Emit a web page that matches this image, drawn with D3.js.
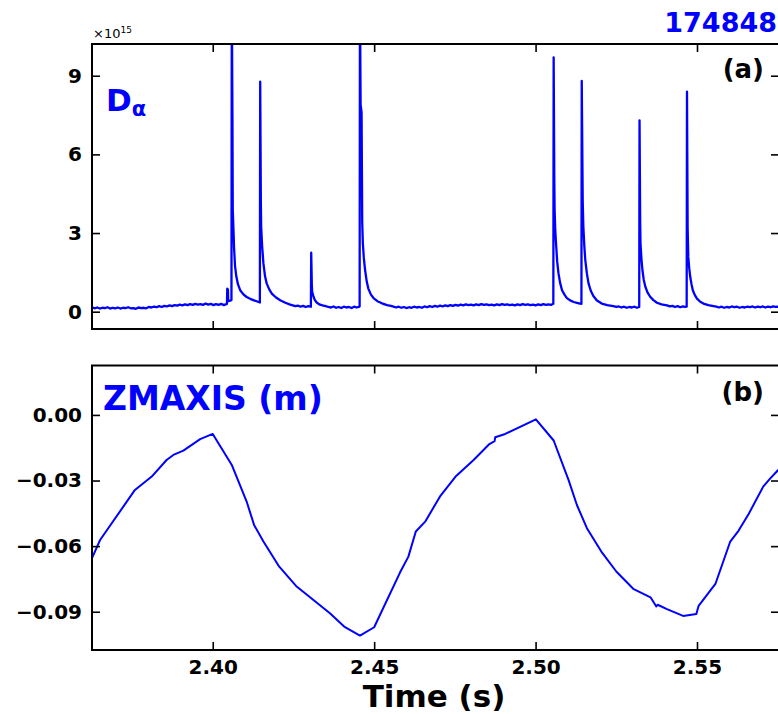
<!DOCTYPE html>
<html>
<head>
<meta charset="utf-8">
<script src="https://cdn.jsdelivr.net/npm/d3@7"></script>
<style>
  html, body { margin: 0; padding: 0; background: #fff; }
  svg { display: block; font-family: "DejaVu Sans", sans-serif; }
</style>
</head>
<body>
<svg id="chart" width="778" height="714"></svg>
<script>
// D-alpha emission (units of 1e15), time in seconds
const daTime = [
  2.3626, 2.3634, 2.3642, 2.3650, 2.3658, 2.3666, 2.3674, 2.3682, 2.3690, 2.3698,
  2.3706, 2.3714, 2.3722, 2.3730, 2.3738, 2.3746, 2.3754, 2.3762, 2.3770, 2.3778,
  2.3786, 2.3794, 2.3802, 2.3810, 2.3818, 2.3826, 2.3834, 2.3842, 2.3850, 2.3858,
  2.3866, 2.3874, 2.3882, 2.3890, 2.3898, 2.3906, 2.3914, 2.3922, 2.3930, 2.3938,
  2.3946, 2.3954, 2.3962, 2.3970, 2.3978, 2.3986, 2.3994, 2.4002, 2.4010, 2.4018,
  2.4026, 2.4034, 2.4040, 2.4044, 2.4045, 2.4047, 2.4048, 2.4054, 2.4058,
  // ELM 1
  2.4059, 2.4061, 2.4062, 2.4064, 2.4066, 2.4069, 2.4073, 2.4078, 2.4085, 2.4095,
  2.4105, 2.4116, 2.4128, 2.4138, 2.4146,
  // ELM 2
  2.4147, 2.4149, 2.4150, 2.4153, 2.4157, 2.4162, 2.4167, 2.4175, 2.4183, 2.4195,
  2.4209, 2.4225, 2.4240, 2.4248, 2.4256, 2.4264, 2.4272, 2.4280, 2.4288, 2.4296, 2.4304,
  // ELM 3
  2.4305, 2.4307, 2.4308, 2.4312, 2.4316, 2.4322, 2.4330, 2.4340, 2.4350, 2.4358,
  2.4366, 2.4374, 2.4382, 2.4390, 2.4398, 2.4406, 2.4414, 2.4422, 2.4430, 2.4438,
  2.4446, 2.4452, 2.4455,
  // ELM 4
  2.4456, 2.4458, 2.4461, 2.4463, 2.4465, 2.4468, 2.4472, 2.4477, 2.4482, 2.4490,
  2.4498, 2.4510, 2.4524, 2.4540, 2.4552, 2.4560, 2.4568, 2.4576, 2.4584, 2.4592,
  2.4600, 2.4608, 2.4616, 2.4624, 2.4632, 2.4640, 2.4648, 2.4656, 2.4664, 2.4672,
  2.4680, 2.4688, 2.4696, 2.4704, 2.4712, 2.4720, 2.4728, 2.4736, 2.4744, 2.4752,
  2.4760, 2.4768, 2.4776, 2.4784, 2.4792, 2.4800, 2.4808, 2.4816, 2.4824, 2.4832,
  2.4840, 2.4848, 2.4856, 2.4864, 2.4872, 2.4880, 2.4888, 2.4896, 2.4904, 2.4912,
  2.4920, 2.4928, 2.4936, 2.4944, 2.4952, 2.4960, 2.4968, 2.4976, 2.4984, 2.4992,
  2.5000, 2.5008, 2.5016, 2.5024, 2.5032, 2.5040, 2.5048, 2.5055,
  // ELM 5
  2.5056, 2.5058, 2.5059, 2.5061, 2.5064, 2.5067, 2.5071, 2.5076, 2.5082, 2.5090,
  2.5097, 2.5107, 2.5118, 2.5128, 2.5138, 2.5142,
  // ELM 6
  2.5143, 2.5146, 2.5148, 2.5151, 2.5154, 2.5159, 2.5164, 2.5171, 2.5179, 2.5190,
  2.5205, 2.5222, 2.5241, 2.5250, 2.5258, 2.5266, 2.5274, 2.5282, 2.5290, 2.5298,
  2.5306, 2.5314, 2.5321,
  // ELM 7
  2.5322, 2.5324, 2.5325, 2.5328, 2.5331, 2.5335, 2.5340, 2.5347, 2.5355, 2.5365,
  2.5376, 2.5390, 2.5407, 2.5416, 2.5424, 2.5432, 2.5440, 2.5448, 2.5456, 2.5463, 2.5468,
  // ELM 8
  2.5469, 2.5471, 2.5473, 2.5476, 2.5479, 2.5483, 2.5487, 2.5493, 2.5500, 2.5510,
  2.5520, 2.5535, 2.5551, 2.5560, 2.5568, 2.5576, 2.5584, 2.5592, 2.5600, 2.5608,
  2.5616, 2.5624, 2.5632, 2.5640, 2.5648, 2.5656, 2.5664, 2.5672, 2.5680, 2.5688,
  2.5696, 2.5704, 2.5712, 2.5720, 2.5728, 2.5736, 2.5744, 2.5752
];
const daValue = [
  0.17, 0.13, 0.16, 0.12, 0.15, 0.14, 0.17, 0.12, 0.15, 0.13,
  0.16, 0.12, 0.15, 0.14, 0.17, 0.13, 0.14, 0.11, 0.16, 0.14,
  0.15, 0.13, 0.18, 0.16, 0.19, 0.17, 0.21, 0.18, 0.22, 0.20,
  0.24, 0.21, 0.25, 0.23, 0.27, 0.24, 0.28, 0.25, 0.29, 0.26,
  0.30, 0.27, 0.29, 0.26, 0.31, 0.27, 0.30, 0.25, 0.29, 0.26,
  0.30, 0.25, 0.28, 0.30, 0.88, 0.85, 0.40, 0.42, 0.45,
  // ELM 1
  12.0, 7.50, 3.90, 3.20, 2.45, 1.75, 1.35, 1.05, 0.82, 0.66,
  0.56, 0.49, 0.43, 0.39, 0.35,
  // ELM 2
  8.77, 4.20, 3.24, 2.50, 1.84, 1.35, 1.08, 0.85, 0.69, 0.55,
  0.44, 0.34, 0.27, 0.24, 0.21, 0.23, 0.19, 0.22, 0.18, 0.21, 0.19,
  // ELM 3
  2.25, 1.00, 0.76, 0.58, 0.45, 0.35, 0.28, 0.24, 0.21, 0.18,
  0.16, 0.20, 0.15, 0.18, 0.14, 0.19, 0.16, 0.18, 0.14, 0.19,
  0.16, 0.18, 0.20,
  // ELM 4
  12.0, 7.90, 7.60, 3.40, 2.60, 2.05, 1.58, 1.15, 0.88, 0.65,
  0.52, 0.40, 0.32, 0.25, 0.22, 0.19, 0.16, 0.19, 0.15, 0.18,
  0.14, 0.17, 0.15, 0.19, 0.16, 0.18, 0.15, 0.20, 0.17, 0.21,
  0.18, 0.22, 0.19, 0.23, 0.20, 0.24, 0.21, 0.25, 0.22, 0.26,
  0.23, 0.27, 0.24, 0.28, 0.25, 0.27, 0.24, 0.28, 0.25, 0.29,
  0.26, 0.28, 0.25, 0.27, 0.24, 0.28, 0.25, 0.29, 0.26, 0.28,
  0.25, 0.27, 0.24, 0.28, 0.25, 0.29, 0.26, 0.28, 0.25, 0.27,
  0.24, 0.28, 0.25, 0.29, 0.26, 0.28, 0.26, 0.30,
  // ELM 5
  9.70, 5.00, 3.87, 3.10, 2.47, 1.90, 1.46, 1.10, 0.82, 0.64,
  0.52, 0.43, 0.37, 0.34, 0.31, 0.30,
  // ELM 6
  8.80, 4.20, 3.24, 2.50, 1.97, 1.45, 1.08, 0.80, 0.60, 0.43,
  0.31, 0.25, 0.21, 0.18, 0.20, 0.16, 0.19, 0.15, 0.18, 0.16,
  0.19, 0.15, 0.18,
  // ELM 7
  7.30, 3.40, 2.60, 2.00, 1.58, 1.22, 0.95, 0.73, 0.57, 0.44,
  0.34, 0.28, 0.24, 0.20, 0.22, 0.18, 0.21, 0.17, 0.20, 0.18, 0.19,
  // ELM 8
  8.39, 3.20, 2.09, 1.65, 1.33, 1.05, 0.82, 0.64, 0.50, 0.38,
  0.31, 0.25, 0.21, 0.19, 0.16, 0.19, 0.15, 0.18, 0.16, 0.20,
  0.17, 0.19, 0.15, 0.18, 0.16, 0.19, 0.17, 0.20, 0.16, 0.19,
  0.17, 0.20, 0.16, 0.19, 0.17, 0.20, 0.18, 0.19
];

// Magnetic axis vertical position (m)
const zTime = [
  2.3626, 2.3651, 2.3759, 2.3811, 2.3857, 2.3878, 2.3909, 2.3961, 2.4000, 2.4059,
  2.4105, 2.4128, 2.4157, 2.4206, 2.4258, 2.4363, 2.4407, 2.4456, 2.4500, 2.4580,
  2.4606, 2.4629, 2.4658, 2.4704, 2.4754, 2.4808, 2.4857, 2.4873, 2.4875, 2.4906,
  2.5001, 2.5056, 2.5102, 2.5128, 2.5159, 2.5206, 2.5250, 2.5304, 2.5356, 2.5374,
  2.5378, 2.5407, 2.5457, 2.5498, 2.5505, 2.5557, 2.5603, 2.5629, 2.5660, 2.5705,
  2.5727, 2.5752
];
const zValue = [
  -0.0655, -0.0572, -0.0343, -0.0282, -0.0206, -0.0183, -0.0163, -0.0111, -0.0087, -0.0229,
  -0.0396, -0.0503, -0.0579, -0.0694, -0.0782, -0.0907, -0.0968, -0.1009, -0.0971, -0.0721,
  -0.0648, -0.0533, -0.0488, -0.0373, -0.0279, -0.0206, -0.0133, -0.0120, -0.0102, -0.0087,
  -0.0020, -0.0117, -0.0297, -0.0412, -0.0518, -0.0630, -0.0716, -0.0797, -0.0834, -0.0876,
  -0.0868, -0.0888, -0.0919, -0.0910, -0.0873, -0.0773, -0.0579, -0.0529, -0.0453, -0.0328,
  -0.0290, -0.0251
];

const xTicks = [2.40, 2.45, 2.50, 2.55];
const daTicks = [0, 3, 6, 9];
const zTicks = [0.00, -0.03, -0.06, -0.09];

const shotLabel = "174848";
const lineColor = "#0000ff";

const svg = d3.select("#chart");
const left = 92, right = 779;

const x = d3.scaleLinear().domain([2.3626, 2.5754]).range([left, right]);

const panels = [
  { top: 44, bottom: 329, yDomain: [-0.66, 10.21], ticks: daTicks, fmt: d3.format("d"),
    t: daTime, v: daValue, tag: "(a)", tagY: 78, showX: false, width: 2.3 },
  { top: 365.5, bottom: 650, yDomain: [-0.1075, 0.0226], ticks: zTicks,
    fmt: d => d3.format(".2f")(d).replace("-", "\u2212"),
    t: zTime, v: zValue, tag: "(b)", tagY: 401, showX: true, width: 2 }
];

panels.forEach((p, i) => {
  const y = d3.scaleLinear().domain(p.yDomain).range([p.bottom, p.top]);
  const g = svg.append("g");
  const clipId = "clip" + i;
  svg.append("clipPath").attr("id", clipId)
    .append("rect").attr("x", left).attr("y", p.top)
    .attr("width", right - left).attr("height", p.bottom - p.top);

  const line = d3.line().x((d, k) => x(p.t[k])).y(d => y(d));
  g.append("path")
    .datum(p.v)
    .attr("clip-path", `url(#${clipId})`)
    .attr("fill", "none")
    .attr("stroke", lineColor)
    .attr("stroke-width", p.width)
    .attr("stroke-linejoin", "round")
    .attr("d", line);

  // inward ticks on all four sides
  const tickLen = 8;
  const axes = [
    { ax: d3.axisLeft(y).tickValues(p.ticks).tickSize(-tickLen).tickPadding(10).tickFormat(p.fmt), tr: `translate(${left},0)` },
    { ax: d3.axisRight(y).tickValues(p.ticks).tickSize(-tickLen).tickFormat(""), tr: `translate(${right},0)` },
    { ax: d3.axisTop(x).tickValues(xTicks).tickSize(-tickLen).tickFormat(""), tr: `translate(0,${p.top})` },
    { ax: d3.axisBottom(x).tickValues(xTicks).tickSize(-tickLen).tickPadding(10).tickFormat(p.showX ? d3.format(".2f") : ""), tr: `translate(0,${p.bottom})` }
  ];
  axes.forEach(a => {
    const ag = g.append("g").attr("transform", a.tr).call(a.ax);
    ag.select(".domain").remove();
    ag.selectAll(".tick line").attr("stroke", "#000").attr("stroke-width", 1.6);
    ag.selectAll(".tick text")
      .attr("fill", "#000")
      .attr("font-family", "DejaVu Sans")
      .attr("font-weight", "bold")
      .attr("font-size", 20);
  });

  g.append("rect")
    .attr("x", left).attr("y", p.top)
    .attr("width", right - left).attr("height", p.bottom - p.top)
    .attr("fill", "none").attr("stroke", "#000").attr("stroke-width", 2);

  g.append("text")
    .attr("x", 764).attr("y", p.tagY)
    .attr("text-anchor", "end")
    .attr("font-weight", "bold").attr("font-size", 26)
    .attr("fill", "#000")
    .text(p.tag);
});

// shot number
svg.append("text")
  .attr("x", 777).attr("y", 32)
  .attr("text-anchor", "end")
  .attr("font-weight", "bold").attr("font-size", 27)
  .attr("fill", lineColor)
  .text(shotLabel);

// scale multiplier
const mult = svg.append("text").attr("x", 93).attr("y", 38)
  .attr("font-size", 13).attr("fill", "#000");
mult.append("tspan").text("\u00d710");
mult.append("tspan").attr("font-size", 9).attr("dy", -5).text("15");

// signal labels
const da = svg.append("text").attr("x", 106).attr("y", 111)
  .attr("font-weight", "bold").attr("fill", lineColor);
da.append("tspan").attr("font-size", 31).text("D");
da.append("tspan").attr("font-size", 21).attr("dy", 5).text("\u03b1");

svg.append("text")
  .attr("x", 103).attr("y", 410)
  .attr("font-weight", "bold").attr("font-size", 33)
  .attr("fill", lineColor)
  .text("ZMAXIS (m)");

svg.append("text")
  .attr("x", 434).attr("y", 707)
  .attr("text-anchor", "middle")
  .attr("font-weight", "bold").attr("font-size", 31)
  .attr("fill", "#000")
  .text("Time (s)");
</script>
</body>
</html>
